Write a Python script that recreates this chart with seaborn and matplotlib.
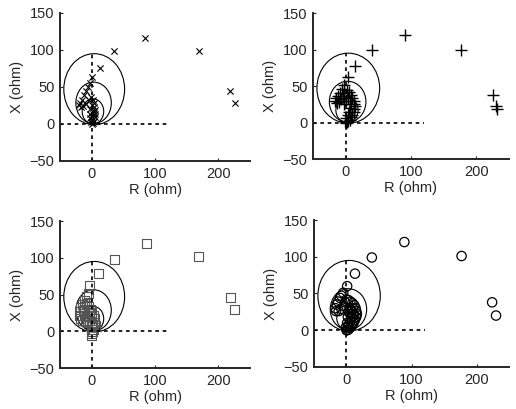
import numpy as np
import pandas as pd
import matplotlib
matplotlib.use("Agg")
import matplotlib.pyplot as plt
from matplotlib.patches import Circle
import seaborn as sns

# -------------------------------
# DATA
# -------------------------------
# mho circles: centre R, centre X, radius (ohm)
circle_r0 = [4, 3, 2]
circle_x0 = [47, 28.5, 17]
circle_rad = [48, 28, 17]

# panel 1 - "x" markers
p1_R = [227, 219, 169, 84, 36, 13, 1,
        -3, -6, -9, -12, -15, -18, -20, -17, -13, -9, -5, -1, 2, 3, 4, 3, 2, 1,
        0, -1, 0, 2, 4, 5, 6, 5, 0, -2, -3, -2]
p1_X = [29, 44, 99, 116, 98, 76, 64,
        56, 50, 45, 39, 33, 28, 25, 23, 24, 27, 32, 36, 33, 28, 23, 18, 13, 9,
        5, 2, 0, 1, 4, 9, 14, 19, 25, 20, 14, 8]

# panel 2 - "+" markers
p2_R = [232, 230, 225, 176, 91, 41, 15, 3,
        -3, -6, -9, -12, -15, -16, -14, -10, -7, -4, -2, 2, 5, 8, 10, 12, 13, 14,
        13, 12, 10, 8, 6, 4, 2, 0, -1, 1, 3, 5, 7, 8, 6, 3, 0, -2]
p2_X = [19, 23, 38, 100, 120, 99, 78, 63,
        52, 46, 41, 37, 34, 30, 27, 28, 32, 36, 40, 44, 42, 38, 34, 30, 26, 22,
        18, 14, 10, 7, 4, 2, 1, 0, 2, 6, 10, 15, 20, 25, 30, 34, 30, 25]

# panel 3 - square markers
p3_R = [226, 219, 169, 87, 36, 10, -3,
        -5, -8, -11, -14, -17, -19, -19, -17, -14, -10, -6, -3, -1, 0, -2, -5,
        -8, -11, -13, -12, -8, -4, 0, 2, 3, 1, -1, 0, 4, 5, 3, 6]
p3_X = [30, 46, 102, 119, 98, 78, 62,
        52, 47, 42, 37, 32, 27, 22, 18, 15, 13, 12, 15, 20, 25, 30, 34,
        38, 34, 28, 22, 20, 24, 10, 6, 2, 0, -3, -6, 12, 17, 22, 8]

# panel 4 - circle markers
p4_R = [230, 224, 177, 89, 39, 13, 1,
        -5, -8, -10, -13, -15, -17, -16, -12, -8, -4, -2, 0, 3, 6, 9, 12, 14, 15,
        16, 15, 13, 11, 9, 7, 5, 3, 1, 0, 2, 4, 6, 8, 9, 8, 5, 3, 2, 1, -1,
        10, 11, 6]
p4_X = [20, 38, 101, 120, 99, 77, 60,
        51, 47, 44, 39, 35, 30, 26, 26, 29, 33, 38, 42, 41, 39, 37, 34, 30, 26,
        22, 18, 14, 10, 7, 5, 3, 1, 0, 0, 4, 8, 12, 17, 22, 27, 30, 25, 18, 10, 4,
        30, 20, 22]

panels = [
    (p1_R, p1_X, dict(marker="x", s=20, color="black", linewidth=0.8)),
    (p2_R, p2_X, dict(marker="+", s=65, color="black", linewidth=1.0)),
    (p3_R, p3_X, dict(marker="s", s=42, facecolor="none", edgecolor="#555555", linewidth=0.8)),
    (p4_R, p4_X, dict(marker="o", s=45, facecolor="none", edgecolor="black", linewidth=0.9)),
]

# axes boxes in figure fractions [left, bottom, width, height]
boxes = [
    [0.1163, 0.6064, 0.3682, 0.3619],
    [0.6066, 0.6112, 0.3798, 0.3570],
    [0.1163, 0.1002, 0.3682, 0.3594],
    [0.6085, 0.1027, 0.3780, 0.3594],
]

sns.set_style("ticks")
plt.rcParams["font.family"] = ["Liberation Sans", "DejaVu Sans"]

fig = plt.figure(figsize=(5.16, 4.09), dpi=100)

for (R, X, style), box in zip(panels, boxes):
    ax = fig.add_axes(box)
    df = pd.DataFrame({"R": R, "X": X})

    # mho characteristic circles
    for cr, cx, rad in zip(circle_r0, circle_x0, circle_rad):
        ax.add_patch(Circle((cr, cx), rad, fill=False, edgecolor="black", linewidth=0.8))

    # dashed reference axes
    ax.plot([-50, 120], [0, 0], color="black", linestyle=(0, (2.2, 2.2)), linewidth=1.2)
    ax.plot([0, 0], [-50, 95], color="black", linestyle=(0, (2.2, 2.2)), linewidth=1.2)

    sns.scatterplot(data=df, x="R", y="X", ax=ax, legend=False, **style)

    ax.set_xlim(-50, 250)
    ax.set_ylim(-50, 150)
    ax.set_xticks([0, 100, 200])
    ax.set_yticks([-50, 0, 50, 100, 150])
    ax.tick_params(direction="in", length=2, labelsize=10.5, pad=4)
    ax.set_xlabel("R (ohm)", fontsize=10.5, labelpad=2)
    ax.set_ylabel("X (ohm)", fontsize=10.5, labelpad=4)
    sns.despine(ax=ax)
    for sp in ["left", "bottom"]:
        ax.spines[sp].set_linewidth(1.4)

fig.savefig("out.png", dpi=100)
